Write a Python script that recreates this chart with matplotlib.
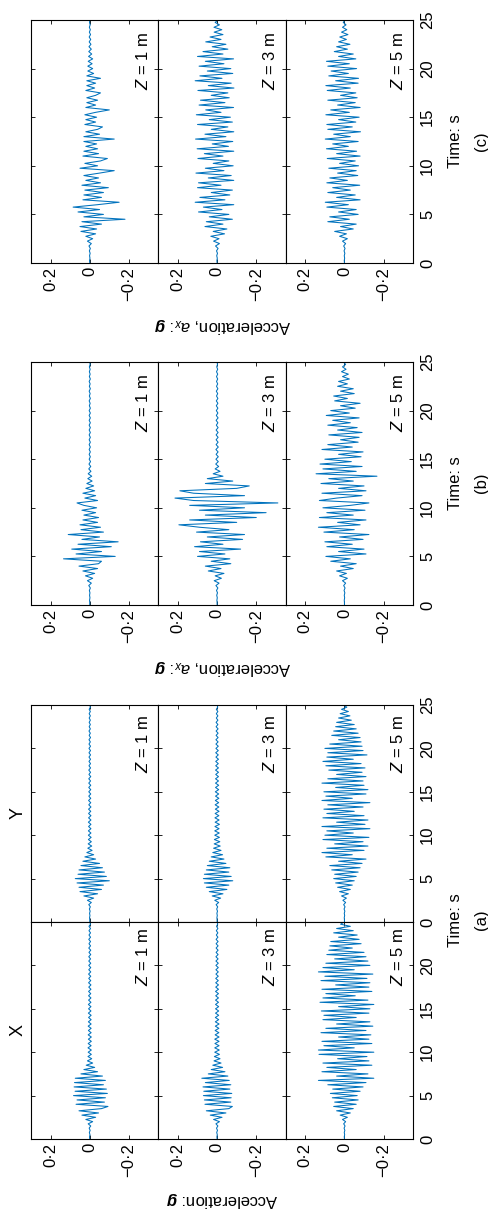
import numpy as np
import matplotlib.pyplot as plt

plt.rcParams['font.family'] = ['Liberation Sans', 'DejaVu Sans']
plt.rcParams['mathtext.fontset'] = 'custom'
plt.rcParams['mathtext.rm'] = 'Liberation Sans'
plt.rcParams['mathtext.it'] = 'Liberation Sans:italic'
plt.rcParams['mathtext.bf'] = 'Liberation Sans:bold'
plt.rcParams['mathtext.bfit'] = 'Liberation Sans:bold:italic'

# one sample every 0.25 s, 0 to 25 s
time = np.arange(0, 25.001, 0.25)

# acceleration records, in units of 0.001 g
# (a) direction X, depths 1, 3, 5 m
ax_z1 = [0, 1, -1, 2, -2, 3, -5, 8,
         -15, 20, -30, 40, -45, 55, -60, -93, 70, -75, 65, -80,
         83, -90, 75, -85, 80, -70, 78, -80, 74, -65, 45, -40, 30, -25, 18, -15, 12, -10, 9, -8,
         8, -8, 9, -7, 8, -8, 7, -8, 8, -7, 7, -7, 8, -7, 7, -7, 6, -7, 7, -6,
         6, -6, 7, -6, 6, -6, 6, -5, 6, -6, 5, -6, 6, -5, 5, -5, 6, -5, 5, -5,
         5, -5, 5, -4, 5, -5, 4, -5, 5, -4, 4, -4, 5, -4, 4, -4, 4, -4, 4, -4,
         0]
ax_z3 = [0, 1, -1, 2, -2, 3, -4, 6,
         -12, 18, -25, 35, -45, 55, -60, -78, 62, -70, 65, -72,
         70, -75, 68, -65, 72, -70, 60, -62, 78, -55, 45, -40, 30, -28, 22, -20, 16, -15, 14, -12,
         12, -11, 12, -10, 11, -10, 12, -10, 10, -9, 10, -9, 9, -10, 9, -8, 9, -8, 8, -8,
         8, -8, 8, -7, 8, -7, 7, -7, 8, -7, 7, -7, 7, -6, 7, -6, 6, -6, 6, -6,
         6, -6, 6, -5, 6, -5, 5, -5, 5, -5, 5, -5, 5, -4, 4, -4, 4, -4, 3, -3,
         0]
ax_z5 = [0, 1, -1, 1, -2, 2, -3, 4,
         -6, 10, -15, 22, -30, 40, -45, 55, -60, 50, -70, 62,
         -65, 72, -80, 60, -95, 85, -110, 133, -150, 40, -120, 115, -60, 90, -140, 110, -125, 35, -115, 130,
         -150, 133, -50, 105, -140, 115, -125, 30, -135, 120, -110, 95, -145, 40, -130, 110, -60, 105, -125, 118,
         -130, 30, -150, 125, -120, 110, -55, 95, -140, 115, -125, 45, -130, 120, -115, 100, -145, 133, -50, 110,
         -130, 95, -120, 50, -110, 90, -100, 80, -40, 75, -85, 70, -75, 30, -65, 55, -45, 40, -30, 20,
         0]
# (a) direction Y, depths 1, 3, 5 m
ay_z1 = [0, 0, 1, -1, 1, -2, 2, -3,
         5, -8, 12, -20, 30, -40, 50, -60, 55, -70, 65, -100,
         74, -85, 60, -75, 55, -65, 45, -50, 35, -30, 25, -20, 15, -12, 10, -10, 8, -8, 7, -7,
         7, -6, 7, -6, 6, -6, 7, -6, 6, -6, 6, -5, 6, -6, 5, -5, 6, -5, 5, -5,
         5, -5, 5, -5, 5, -4, 5, -5, 4, -4, 5, -4, 4, -4, 4, -4, 4, -4, 4, -4,
         4, -4, 4, -3, 4, -4, 3, -3, 4, -3, 3, -3, 3, -3, 3, -3, 3, -3, 3, -3,
         0]
ay_z3 = [0, 0, 1, -1, 1, -2, 2, -3,
         5, -8, 12, -18, 25, -30, 40, -50, 55, -60, 65, -80,
         70, -72, 65, -60, 55, -65, 50, -45, 40, -35, 30, -28, 22, -20, 18, -16, 15, -14, 14, -12,
         12, -11, 12, -10, 11, -12, 10, -10, 11, -9, 10, -10, 9, -9, 10, -8, 9, -9, 8, -8,
         9, -8, 8, -8, 8, -7, 8, -7, 7, -7, 8, -7, 7, -6, 7, -7, 6, -6, 7, -6,
         6, -6, 6, -5, 6, -5, 5, -5, 5, -5, 5, -4, 5, -4, 4, -4, 4, -4, 4, -3,
         0]
ay_z5 = [0, 0, 1, -1, 1, -2, 2, -3,
         4, -6, 8, -10, 15, -20, 25, -30, 35, -40, 45, -50,
         55, -60, 50, -70, 65, -80, 75, -90, 30, -110, 95, -40, 115, -100, 90, -120, 50, -95, 110, -125,
         100, -45, 90, -130, 115, -105, 40, -120, 110, -100, 90, -50, 105, -95, 85, -130, 115, -40, 95, -110,
         105, -120, 45, -100, 115, -95, 85, -110, 40, -90, 80, -105, 95, -85, 110, -45, 90, -115, 85, -95,
         100, -90, 75, -85, 30, -80, 65, -70, 55, -60, 45, -50, 40, -35, 30, -28, 22, -20, 15, -12,
         5]
# (b) depths 1, 3, 5 m
b_z1 = [0, 0, 1, -1, 1, -1, 2, -3,
        5, -8, 12, -15, 22, -25, 35, -40, 55, -45, -60, 134,
        -130, 70, -60, 92, -110, 60, -145, 40, -50, 110, -70, 45, -55, 50, -40, 35, -45, 30, -30, 40,
        -35, 30, 65, -40, 25, -30, 35, -25, 20, -20, 15, -12, 10, -10, 8, -6, 5, -5, 4, -4,
        3, -3, 3, -3, 3, -3, 3, -3, 3, -3, 3, -3, 3, -3, 3, -3, 3, -3, 3, -3,
        3, -3, 2, -2, 3, -3, 2, -2, 3, -3, 2, -2, 3, -3, 2, -2, 2, -2, 2, -2,
        0]
b_z3 = [0, 0, 1, -1, 2, -2, 3, -4,
        6, -10, 15, -22, 10, -35, 45, -20, 60, -70, 30, -65,
        100, -40, 90, -120, 115, -30, 85, -130, 50, -140, 105, -60, 90, 195, -100, 140, -200, 60, -250, 90,
        -140, 140, -310, 120, 215, -140, 120, 190, -100, -164, 60, -80, 50, -30, 20, -15, 10, -8, 7, -6,
        6, -6, 5, -5, 6, -6, 5, -5, 5, -5, 5, -5, 5, -5, 4, -4, 5, -5, 4, -4,
        4, -4, 4, -4, 4, -4, 3, -3, 4, -4, 3, -3, 3, -3, 3, -3, 3, -3, 2, -2,
        0]
b_z5 = [0, 0, 1, -1, 1, -2, 2, -3,
        4, -6, 10, -15, 25, -10, 40, -45, 20, -60, 70, -30,
        95, -110, 30, -100, 90, -40, 100, -95, 25, -125, 105, -50, 133, -80, 35, -110, 128, -45, 90, -105,
        110, -30, -125, 128, 40, -90, 115, -110, 30, -100, 120, -45, 80, -166, 145, -60, 110, -90, 125, -35,
        100, -85, 30, -95, 115, -40, 85, -70, 20, -75, 80, -90, 35, -65, 85, -30, 60, -75, 93, -25,
        70, -55, 20, -80, 50, -15, 55, -50, 20, -45, 35, -15, 30, -25, 10, -20, 15, -8, 10, -6,
        5]
# (c) depths 1, 3, 5 m
c_z1 = [0, 1, -1, 1, -2, 2, -3, 4,
        -8, 12, -15, 20, -30, 45, -35, 50, -60, 40, -180, 30,
        -70, 60, -50, 85, -40, -150, 35, -60, 30, -70, 25, -95, 40, -55, 20, -45, 30, -50, -125, 50,
        -40, 25, -55, -90, 35, -45, 30, -40, 20, -35, 30, -125, 30, -50, 20, -40, -65, 25, -30, 20,
        -35, 25, -30, -100, 20, -30, 15, -40, 15, -30, -55, 20, -25, 15, -30, 15, -55, 15, -20, 10,
        -15, 10, -12, 8, -15, 6, -10, 5, -8, 4, -6, 3, -5, 3, -4, 2, -3, 2, -2, 1,
        0]
c_z3 = [0, 1, -1, 2, -2, 3, -5, 8,
        -12, 18, -10, 32, -38, 20, -50, 62, -30, 55, -78, 40,
        -60, 95, -25, 70, -85, 112, -40, 88, -65, 30, -78, 100, -20, 95, -85, 45, -72, 108, -35, 60,
        -82, 20, -60, 98, -30, 65, -85, 102, -58, 25, -80, 110, -45, 62, -85, 30, -55, 100, -78, 40,
        -68, 106, -20, 58, -84, 92, -40, 85, -62, 30, -55, 98, -86, 45, -72, 112, -25, 88, -80, 50,
        -70, 92, -35, 60, -84, 100, -30, 72, -55, 25, -45, 58, -20, 36, -30, 15, -24, 16, -12, 10,
        -5]
c_z5 = [0, 1, -1, 1, -2, 2, -3, 4,
        -6, 10, -15, 25, -10, 50, -45, 20, -60, 85, -25, 75,
        -70, 30, -60, 90, -20, 98, -80, 40, -55, 85, -30, 60, -78, 90, -15, 75, -68, 35, -60, 80,
        -72, 25, -55, 88, -80, 40, -62, 92, -20, 60, -70, 98, -30, 55, -82, 85, -40, 90, -58, 30,
        -75, 95, -25, 70, -80, 35, -55, 85, -65, 20, -58, 88, -30, 95, -70, 45, -72, 80, -20, 68,
        -62, 85, -25, 92, -58, 30, -45, 52, -15, 40, -28, 30, -10, 24, -18, 15, -12, 10, -8, 6,
        -3]

depth_labels = ['$Z$ = 1 m', '$Z$ = 3 m', '$Z$ = 5 m']
acc_ticks = [0.2, 0, -0.2]
acc_tick_labels = ['0·2', '0', '\u22120·2']
time_ticks = [0, 5, 10, 15, 20, 25]

BLUE = '#0072BD'
W, H = 488, 1210
fig = plt.figure(figsize=(W / 100, H / 100), dpi=100)

# the figure is drawn turned a quarter turn: time runs upwards, depth rows run left to right
row_x = [31, 158.3, 285.7, 413]


def add_px_axes(x0, x1, y0, y1):
    return fig.add_axes([x0 / W, 1 - y1 / H, (x1 - x0) / W, (y1 - y0) / H])


def draw_group(records, y0, y1, acc_labels=True, time_labels=None, text_gap=10):
    for i, rec in enumerate(records):
        ax = add_px_axes(row_x[i], row_x[i + 1], y0, y1)
        ax.plot(np.array(rec) / 1000, time, color=BLUE, lw=0.75)
        ax.set_xlim(0.3, -0.35)
        ax.set_ylim(0, 25)
        ax.set_xticks(acc_ticks)
        ax.set_yticks(time_ticks)
        ax.tick_params(direction='in', length=3, width=0.6, top=True, right=True,
                       labelsize=12, pad=3)
        for s in ax.spines.values():
            s.set_linewidth(0.8)
        if acc_labels:
            ax.set_xticklabels(acc_tick_labels)
            ax.tick_params(axis='x', labelrotation=90)
        else:
            ax.tick_params(axis='x', labelbottom=False)
        if i == 2 and time_labels is not None:
            ax.tick_params(axis='y', labelleft=False, labelright=True, labelrotation=90, pad=5)
            ax.set_yticklabels(time_labels, va='center')
        else:
            ax.tick_params(axis='y', labelleft=False)
        ax.text(0.88, 1 - text_gap / (y1 - y0), depth_labels[i], rotation=90,
                ha='center', va='top', fontsize=12, transform=ax.transAxes)


def fig_text(x, y, s, rot, size=12):
    fig.text(x / W, 1 - y / H, s, rotation=rot, ha='center', va='center', fontsize=size)


# (c)
draw_group([c_z1, c_z3, c_z5], 20, 263, time_labels=[str(t) for t in time_ticks], text_gap=12)
fig_text(222, 325, 'Acceleration, $a_x$: $\\mathbfit{g}$', 180)
fig_text(455, 141, 'Time: s', 90)
fig_text(481, 141, '(c)', 90)

# (b)
draw_group([b_z1, b_z3, b_z5], 362, 605, time_labels=[str(t) for t in time_ticks], text_gap=12)
fig_text(222, 667, 'Acceleration, $a_x$: $\\mathbfit{g}$', 180)
fig_text(455, 483, 'Time: s', 90)
fig_text(481, 483, '(b)', 90)

# (a): Y on top, X below
draw_group([ay_z1, ay_z3, ay_z5], 705, 922, acc_labels=False,
           time_labels=[str(t) for t in time_ticks], text_gap=10)
draw_group([ax_z1, ax_z3, ax_z5], 922, 1139,
           time_labels=[str(t) for t in time_ticks[:-1]] + [''], text_gap=6)
fig_text(222, 1199, 'Acceleration: $\\mathbfit{g}$', 180)
fig_text(455, 920, 'Time: s', 90)
fig_text(481, 920, '(a)', 90)
fig_text(18, 813, 'Y', 90, 13)
fig_text(18, 1030, 'X', 90, 13)

fig.savefig('out.png', dpi=100)
